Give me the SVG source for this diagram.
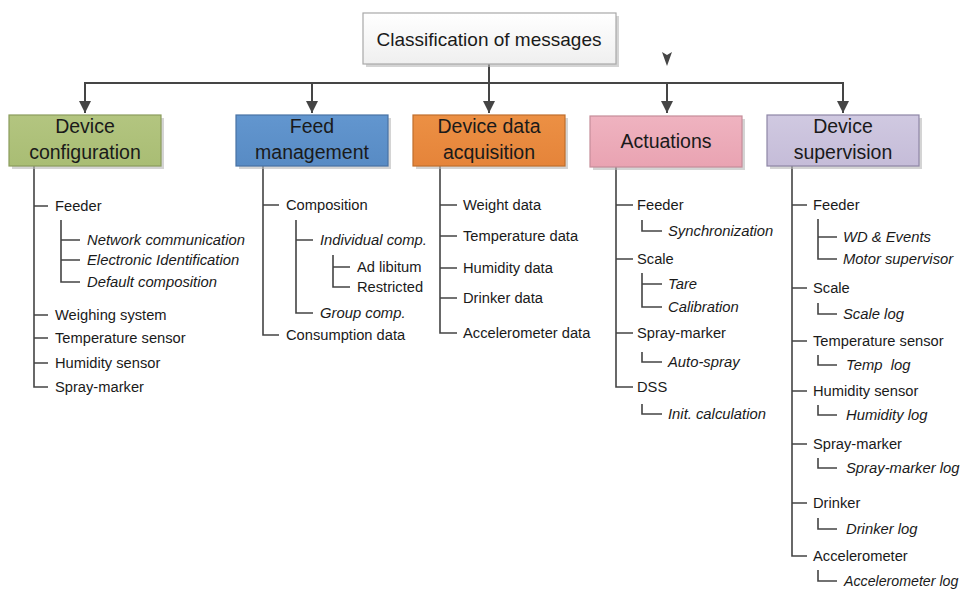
<svg xmlns="http://www.w3.org/2000/svg" width="963" height="589" viewBox="0 0 963 589">
<defs>
<style>
text{font-family:"Liberation Sans",Arial,sans-serif;fill:#1a1a1a}
.box{stroke-width:1.2}
.bl{font-size:19.5px;text-anchor:middle}
.it{font-size:14.7px}
.i{font-style:italic;font-size:14.8px}
.tree{fill:none;stroke:#444444;stroke-width:1.6}
.conn{fill:none;stroke:#454545;stroke-width:2}
.sh{fill:#b8b8b8;opacity:0.6}
</style>
<linearGradient id="gTop" x1="0" y1="0" x2="0" y2="1"><stop offset="0" stop-color="#ffffff"/><stop offset="1" stop-color="#efefef"/></linearGradient>
<linearGradient id="gGreen" x1="0" y1="0" x2="0" y2="1"><stop offset="0" stop-color="#b3c580"/><stop offset="1" stop-color="#a9bd74"/></linearGradient>
<linearGradient id="gBlue" x1="0" y1="0" x2="0" y2="1"><stop offset="0" stop-color="#6296cf"/><stop offset="1" stop-color="#588bc4"/></linearGradient>
<linearGradient id="gOrange" x1="0" y1="0" x2="0" y2="1"><stop offset="0" stop-color="#ec9044"/><stop offset="1" stop-color="#e5843a"/></linearGradient>
<linearGradient id="gPink" x1="0" y1="0" x2="0" y2="1"><stop offset="0" stop-color="#efb3c0"/><stop offset="1" stop-color="#e9a3b2"/></linearGradient>
<linearGradient id="gLav" x1="0" y1="0" x2="0" y2="1"><stop offset="0" stop-color="#d0c9e1"/><stop offset="1" stop-color="#c5bcd8"/></linearGradient>
<marker id="arr" markerUnits="userSpaceOnUse" markerWidth="12" markerHeight="12" refX="10" refY="5" viewBox="0 0 10 10" orient="auto">
<path d="M0,0 L10,5 L0,10 Z" fill="#454545"/>
</marker>
</defs>
<rect width="963" height="589" fill="#ffffff"/>

<g id="connectors">
<path class="conn" d="M489,64 V113" marker-end="url(#arr)"/>
<path class="conn" d="M489,83 H85 V113" marker-end="url(#arr)"/>
<path class="conn" d="M489,83 H312 V113" marker-end="url(#arr)"/>
<path class="conn" d="M489,83 H667 V113" marker-end="url(#arr)"/>
<path class="conn" d="M489,83 H843 V113" marker-end="url(#arr)"/>
<polygon points="662,52 667,55 672,52 667,66" fill="#454545"/>
</g>

<g id="tree-lines">
<path class="tree" d="M34,166 V387 H48 M34,206 H48 M34,315 H48 M34,338 H48 M34,363 H48"/>
<path class="tree" d="M61,220 V282 H80 M61,240 H80 M61,260 H80"/>
<path class="tree" d="M263,166 V335 H279 M263,205 H279"/>
<path class="tree" d="M296,220 V313 H313 M296,240 H313"/>
<path class="tree" d="M333,255 V287 H350 M333,267 H350"/>
<path class="tree" d="M440,166 V333 H457 M440,205 H457 M440,236 H457 M440,268 H457 M440,298 H457"/>
<path class="tree" d="M616,167 V387 H633 M616,205 H633 M616,259 H633 M616,333 H633"/>
<path class="tree" d="M642,220 V231 H662"/>
<path class="tree" d="M642,273 V307 H662 M642,284 H662"/>
<path class="tree" d="M642,352 V362 H662"/>
<path class="tree" d="M642,404 V414 H662"/>
<path class="tree" d="M792,166 V556 H807 M792,205 H807 M792,288 H807 M792,341 H807 M792,391 H807 M792,444 H807 M792,503 H807"/>
<path class="tree" d="M818,219 V259 H837 M818,237 H837"/>
<path class="tree" d="M818,303 V314 H837"/>
<path class="tree" d="M818,355 V365 H837"/>
<path class="tree" d="M818,405 V415 H837"/>
<path class="tree" d="M818,458 V468 H837"/>
<path class="tree" d="M818,518 V529 H837"/>
<path class="tree" d="M818,570 V581 H837"/>
</g>

<g id="node-root">
<rect class="sh" x="366" y="16" width="253" height="51"/>
<rect class="box" x="363" y="13" width="253" height="51" fill="url(#gTop)" stroke="#a8a8a8"/>
<text x="489" y="46" style="font-size:19px;text-anchor:middle">Classification of messages</text>
</g>

<g id="node-device-configuration">
<rect class="sh" x="12" y="118" width="152" height="51"/>
<rect class="box" x="9" y="115" width="152" height="51" fill="url(#gGreen)" stroke="#8a9c5c"/>
<text class="bl" x="85" y="133">Device</text>
<text class="bl" x="85" y="159">configuration</text>
</g>

<g id="node-feed-management">
<rect class="sh" x="239" y="118" width="152" height="51"/>
<rect class="box" x="236" y="115" width="152" height="51" fill="url(#gBlue)" stroke="#4872a4"/>
<text class="bl" x="312" y="133">Feed</text>
<text class="bl" x="312" y="159">management</text>
</g>

<g id="node-device-data-acquisition">
<rect class="sh" x="416" y="118" width="152" height="51"/>
<rect class="box" x="413" y="115" width="152" height="51" fill="url(#gOrange)" stroke="#c06e2c"/>
<text class="bl" x="489" y="133">Device data</text>
<text class="bl" x="489" y="159">acquisition</text>
</g>

<g id="node-actuations">
<rect class="sh" x="593" y="119" width="152" height="51"/>
<rect class="box" x="590" y="116" width="152" height="51" fill="url(#gPink)" stroke="#c58d99"/>
<text class="bl" x="666" y="148">Actuations</text>
</g>

<g id="node-device-supervision">
<rect class="sh" x="770" y="118" width="152" height="51"/>
<rect class="box" x="767" y="115" width="152" height="51" fill="url(#gLav)" stroke="#8e86a6"/>
<text class="bl" x="843" y="133">Device</text>
<text class="bl" x="843" y="159">supervision</text>
</g>

<g id="list-device-configuration">
<text class="it" x="55" y="210.5">Feeder</text>
<text class="it i" x="87" y="244.5">Network communication</text>
<text class="it i" x="87" y="264.5">Electronic Identification</text>
<text class="it i" x="87" y="286.5">Default composition</text>
<text class="it" x="55" y="319.5">Weighing system</text>
<text class="it" x="55" y="342.5">Temperature sensor</text>
<text class="it" x="55" y="367.5">Humidity sensor</text>
<text class="it" x="55" y="391.5">Spray-marker</text>
</g>

<g id="list-feed-management">
<text class="it" x="286" y="209.5">Composition</text>
<text class="it i" x="320" y="244.5">Individual comp.</text>
<text class="it" x="357" y="271.5">Ad libitum</text>
<text class="it" x="357" y="291.5">Restricted</text>
<text class="it i" x="320" y="317.5">Group comp.</text>
<text class="it" x="286" y="339.5">Consumption data</text>
</g>

<g id="list-device-data-acquisition">
<text class="it" x="463" y="209.5">Weight data</text>
<text class="it" x="463" y="240.5">Temperature data</text>
<text class="it" x="463" y="272.5">Humidity data</text>
<text class="it" x="463" y="302.5">Drinker data</text>
<text class="it" x="463" y="337.5">Accelerometer data</text>
</g>

<g id="list-actuations">
<text class="it" x="637" y="209.5">Feeder</text>
<text class="it i" x="668" y="235.5">Synchronization</text>
<text class="it" x="637" y="263.5">Scale</text>
<text class="it i" x="668" y="288.5">Tare</text>
<text class="it i" x="668" y="311.5">Calibration</text>
<text class="it" x="637" y="337.5">Spray-marker</text>
<text class="it i" x="668" y="366.5">Auto-spray</text>
<text class="it" x="637" y="391.5">DSS</text>
<text class="it i" x="668" y="418.5">Init. calculation</text>
</g>

<g id="list-device-supervision">
<text class="it" x="813" y="209.5">Feeder</text>
<text class="it i" x="843" y="241.5">WD &amp; Events</text>
<text class="it i" x="843" y="263.5">Motor supervisor</text>
<text class="it" x="813" y="292.5">Scale</text>
<text class="it i" x="843" y="318.5">Scale log</text>
<text class="it" x="813" y="345.5">Temperature sensor</text>
<text class="it i" x="846" y="369.5" xml:space="preserve">Temp  log</text>
<text class="it" x="813" y="395.5">Humidity sensor</text>
<text class="it i" x="846" y="419.5">Humidity log</text>
<text class="it" x="813" y="448.5">Spray-marker</text>
<text class="it i" x="846" y="472.5">Spray-marker log</text>
<text class="it" x="813" y="507.5">Drinker</text>
<text class="it i" x="846" y="533.5">Drinker log</text>
<text class="it" x="813" y="560.5">Accelerometer</text>
<text class="it i" x="844" y="585.5" style="font-size:14.2px">Accelerometer log</text>
</g>
</svg>
